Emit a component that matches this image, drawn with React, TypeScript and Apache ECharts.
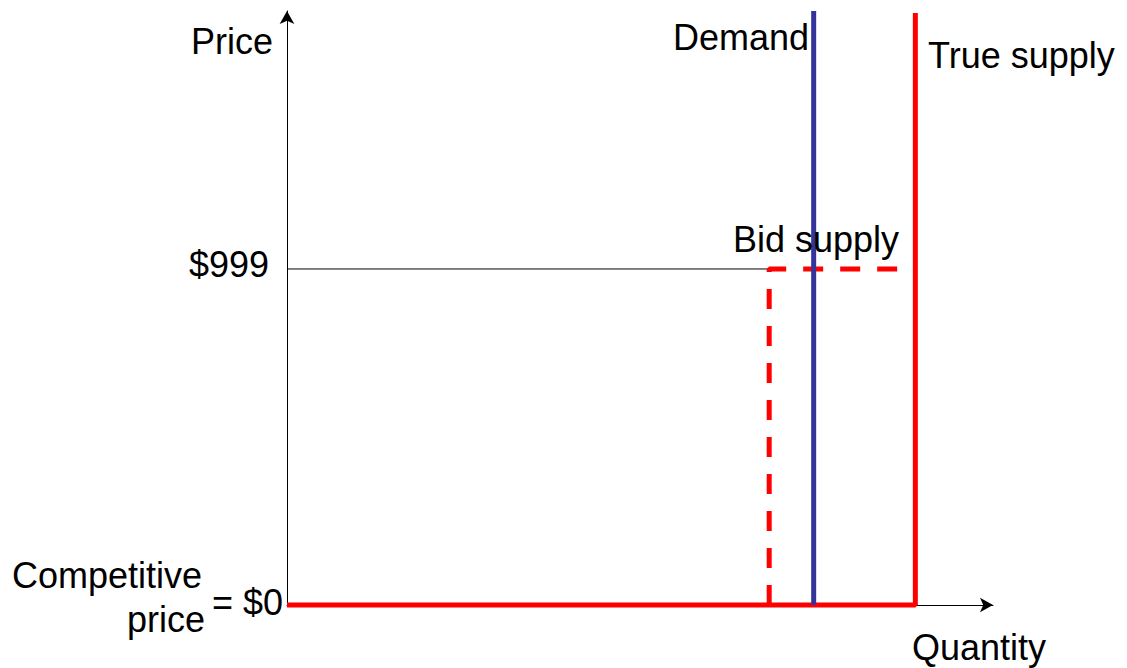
import React, { useEffect, useRef } from "react";
import * as echarts from "echarts";

// Quantities (x) and prices (y)
const quantityMax = 100;
const priceMax = 1766;
const priceTicks = [0, 999];
const priceTickLabels = ["= $0", "$999"];

const bidStepQuantity = 68.3;
const demandQuantity = 74.6;
const trueSupplyQuantity = 89.0;
const capPrice = 999;
const demandTop = 1766;
const trueSupplyTop = 1760;

const demandLine = [
  [demandQuantity, 0],
  [demandQuantity, demandTop],
];
const trueSupplyLine = [
  [0, 0],
  [trueSupplyQuantity, 0],
  [trueSupplyQuantity, trueSupplyTop],
];
const bidSupplyLine = [
  [bidStepQuantity, 0],
  [bidStepQuantity, capPrice],
  [trueSupplyQuantity, capPrice],
];
const capGuide = [
  [0, capPrice],
  [bidStepQuantity, capPrice],
];

const FONT = "'Liberation Sans', Arial, sans-serif";

export default function App() {
  const ref = useRef<HTMLDivElement>(null);

  useEffect(() => {
    if (!ref.current) return;
    const chart = echarts.init(ref.current, undefined, { renderer: "svg" });
    const txt = (text: string, x: number, y: number, align = "left") => ({
      type: "text",
      x,
      y,
      z: 100,
      style: {
        text,
        fill: "#000",
        font: `36px ${FONT}`,
        align,
        verticalAlign: "middle",
      },
    });
    chart.setOption({
      animation: false,
      backgroundColor: "#fff",
      grid: { left: 287, right: 134, top: 11, bottom: 63, containLabel: false },
      xAxis: {
        type: "value",
        min: 0,
        max: quantityMax,
        axisLine: {
          show: true,
          onZero: false,
          symbol: ["none", "arrow"],
          symbolSize: [11, 13],
          lineStyle: { color: "#000", width: 1 },
        },
        axisTick: { show: false },
        axisLabel: { show: false },
        splitLine: { show: false },
      },
      yAxis: {
        type: "value",
        min: 0,
        max: priceMax,
        axisLine: {
          show: true,
          onZero: false,
          symbol: ["none", "arrow"],
          symbolSize: [11, 13],
          lineStyle: { color: "#000", width: 1 },
        },
        axisTick: { show: false },
        splitLine: { show: false },
        axisLabel: {
          show: true,
          customValues: priceTicks,
          margin: 4,
          formatter: (v: number) => {
            const i = priceTicks.indexOf(v);
            return i === 0 ? `{z|${priceTickLabels[0]}}` : `{n|${priceTickLabels[i]}}`;
          },
          rich: {
            z: { fontSize: 36, fontFamily: FONT, color: "#000", padding: [0, 0, 5, 0] },
            n: { fontSize: 36, fontFamily: FONT, color: "#000", padding: [0, 14, 9, 0] },
          },
        },
      },
      series: [
        {
          name: "Cap",
          type: "line",
          data: capGuide,
          symbol: "none",
          clip: false,
          z: 1,
          lineStyle: { color: "#000", width: 1 },
        },
        {
          name: "Bid supply",
          type: "line",
          data: bidSupplyLine,
          symbol: "none",
          clip: false,
          z: 2,
          lineStyle: { color: "#ff0000", width: 5, type: [20, 17] },
        },
        {
          name: "True supply",
          type: "line",
          data: trueSupplyLine,
          symbol: "none",
          clip: false,
          z: 3,
          lineStyle: { color: "#ff0000", width: 5 },
        },
        {
          name: "Demand",
          type: "line",
          data: demandLine,
          symbol: "none",
          clip: false,
          z: 4,
          lineStyle: { color: "#333399", width: 5 },
        },
      ],
      graphic: [
        txt("Price", 191, 41.5),
        txt("Demand", 673, 37.5),
        txt("True supply", 928, 55.5),
        txt("Bid supply", 733, 239.5),
        txt("Competitive", 12, 575.5),
        txt("price", 205, 619.5, "right"),
        txt("Quantity", 912, 647),
      ],
    });
    return () => chart.dispose();
  }, []);

  return (
    <div
      ref={ref}
      style={{ position: "absolute", left: 0, top: 0, width: 1127, height: 668 }}
    />
  );
}
